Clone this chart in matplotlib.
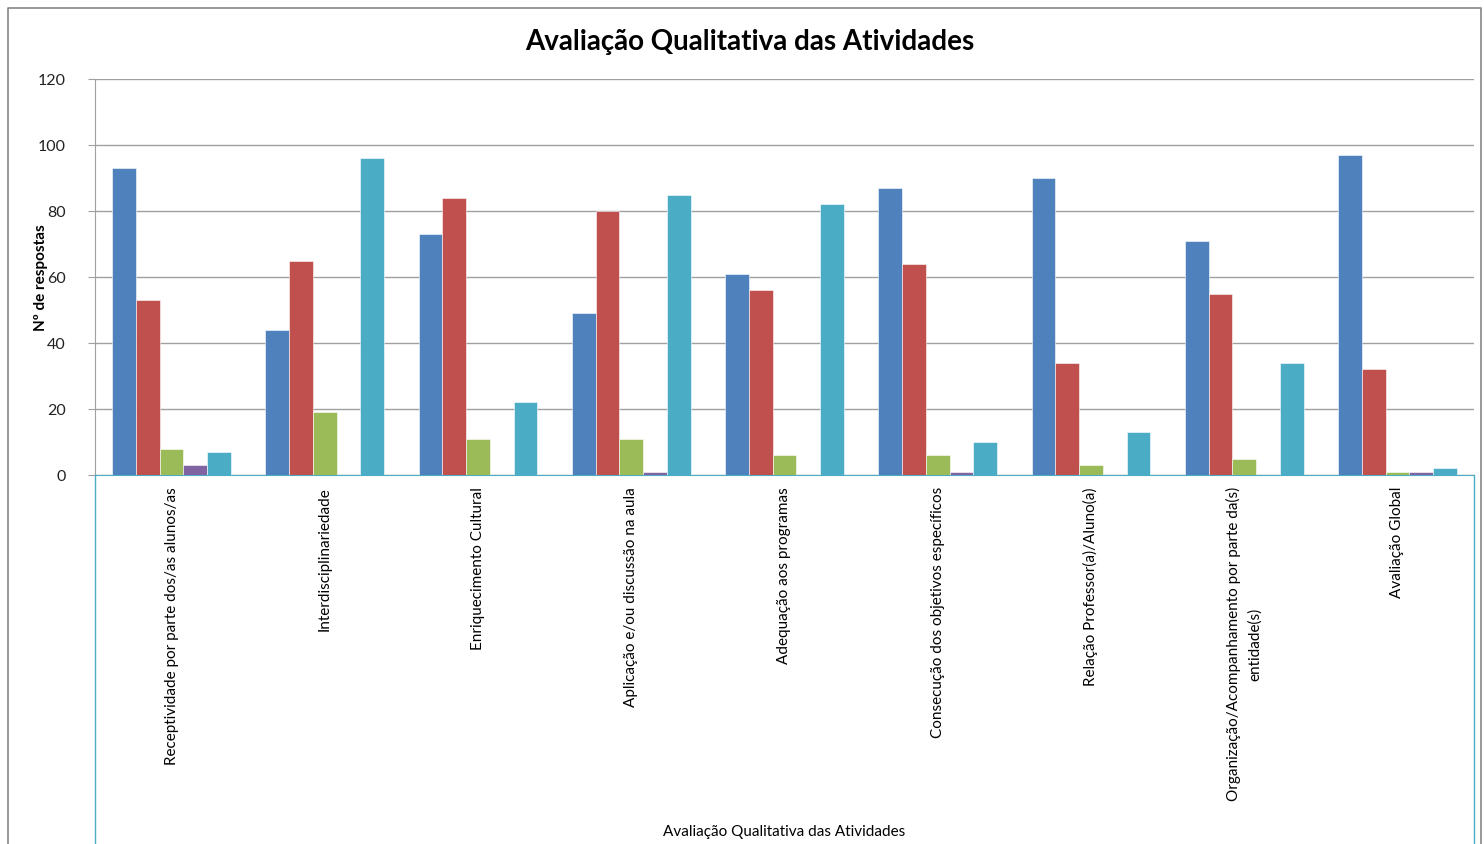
import matplotlib.pyplot as plt
import numpy as np

categories = [
    'Receptividade por parte dos/as alunos/as',
    'Interdisciplinariedade',
    'Enriquecimento Cultural',
    'Aplicação e/ou discussão na aula',
    'Adequação aos programas',
    'Consecução dos objetivos específicos',
    'Relação Professor(a)/Aluno(a)',
    'Organização/Acompanhamento por parte da(s)\nentidade(s)',
    'Avaliação Global',
]

s1 = [93, 44, 73, 49, 61, 87, 90, 71, 97]
s2 = [53, 65, 84, 80, 56, 64, 34, 55, 32]
s3 = [8, 19, 11, 11, 6, 6, 3, 5, 1]
s4 = [3, 0, 0, 1, 0, 1, 0, 0, 1]
s5 = [7, 96, 22, 85, 82, 10, 13, 34, 2]

series = [s1, s2, s3, s4, s5]
colors = ['#4F81BD', '#C0504D', '#9BBB59', '#8064A2', '#4BACC6']

plt.rcParams['font.family'] = ['Lato', 'DejaVu Sans']

W, H = 1484, 845
fig = plt.figure(figsize=(W / 100, H / 100), dpi=100)
ax = fig.add_axes([95 / W, 1 - 476 / H, (1474 - 95) / W, (476 - 80) / H])

x = np.arange(len(categories))
bw = 0.155
for i, (vals, c) in enumerate(zip(series, colors)):
    ax.bar(x + (i - 2) * bw, vals, bw, color=c, edgecolor='white', linewidth=0.4, zorder=3)

ax.set_xlim(-0.5, len(categories) - 0.5)
ax.set_ylim(0, 120)
ax.set_yticks(np.arange(0, 121, 20))
ax.yaxis.grid(True, color='#a0a0a0', linewidth=1, zorder=0)
ax.tick_params(axis='y', labelsize=11.5, length=5, color='#a0a0a0', pad=16, labelcolor='#222222')
ax.set_xticks(x)
ax.set_xticklabels(categories, rotation=90, fontsize=11, ha='center', va='top',
                   multialignment='center', linespacing=1.6)
ax.tick_params(axis='x', length=0, pad=8)

for s in ['top', 'right']:
    ax.spines[s].set_visible(False)
ax.spines['left'].set_color('#a0a0a0')
ax.spines['bottom'].set_color('#4BACC6')

ax.set_ylabel('Nº de respostas', fontsize=11, fontweight='bold')
ax.yaxis.set_label_coords(-47 / (1474 - 95), 0.5)

# category axis box
for xs, ys in [([95, 95], [476, 845]), ([1474, 1474], [476, 845])]:
    fig.add_artist(plt.Line2D([v / W for v in xs], [1 - v / H for v in ys],
                              color='#4BACC6', linewidth=1))
# chart border
fig.add_artist(plt.Line2D([8 / W, 8 / W, 1481 / W, 1481 / W], [0, 1 - 9 / H, 1 - 9 / H, 0],
                          color='#868686', linewidth=1.2))

fig.text(750 / W, 1 - 42 / H, 'Avaliação Qualitativa das Atividades', fontsize=20,
         fontweight='bold', ha='center', va='center')
fig.text(784 / W, 1 - 832 / H, 'Avaliação Qualitativa das Atividades', fontsize=11,
         ha='center', va='center')

fig.savefig('out.png', dpi=100)
